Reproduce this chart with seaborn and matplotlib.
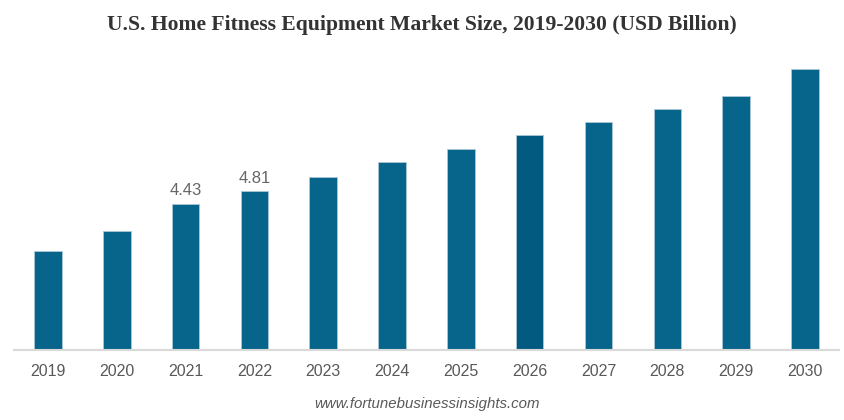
import matplotlib.pyplot as plt
import seaborn as sns
import pandas as pd

years = ['2019', '2020', '2021', '2022', '2023', '2024', '2025', '2026', '2027', '2028', '2029', '2030']
market_size = [3.01, 3.60, 4.43, 4.81, 5.25, 5.70, 6.09, 6.50, 6.90, 7.30, 7.70, 8.50]
labeled_years = ['2021', '2022']

bar_color = '#07648A'
highlight_color = '#025A80'

df = pd.DataFrame({'year': years, 'size': market_size})
palette = {y: (highlight_color if y == '2026' else bar_color) for y in years}

sns.set_style('white')
plt.rcParams['font.family'] = ['Liberation Sans', 'DejaVu Sans']

fig = plt.figure(figsize=(8.44, 4.2), dpi=100)
ax = fig.add_axes([0.0161, 0.1667, 0.9784, 0.708])

sns.barplot(data=df, x='year', y='size', hue='year', palette=palette, legend=False,
            saturation=1, width=0.4, edgecolor='#a9c8d6', linewidth=0.6, ax=ax)

ax.set_xlim(-0.5, len(years) - 0.5)
ax.set_ylim(0, 9)
ax.set_xlabel('')
ax.set_ylabel('')
ax.set_yticks([])
ax.tick_params(axis='x', length=0, labelsize=11.5, labelcolor='#595959', pad=10)

for side in ['top', 'right', 'left']:
    ax.spines[side].set_visible(False)
ax.spines['bottom'].set_color('#d9d9d9')
ax.spines['bottom'].set_linewidth(1.5)

# value labels only on a couple of bars
for i, (y, v) in enumerate(zip(years, market_size)):
    if y in labeled_years:
        ax.annotate(f'{v:.2f}', (i, v), xytext=(0, 4), textcoords='offset points',
                    ha='center', va='bottom', fontsize=12, color='#666666')

fig.text(0.5, 0.94, 'U.S. Home Fitness Equipment Market Size, 2019-2030 (USD Billion)',
         ha='center', va='center', fontsize=15.6, fontweight='bold',
         family='Liberation Serif', color='#333333')
fig.text(0.506, 0.038, 'www.fortunebusinessinsights.com', ha='center', va='center',
         fontsize=10.8, style='italic', color='#595959')

fig.savefig('out.png', dpi=100)
